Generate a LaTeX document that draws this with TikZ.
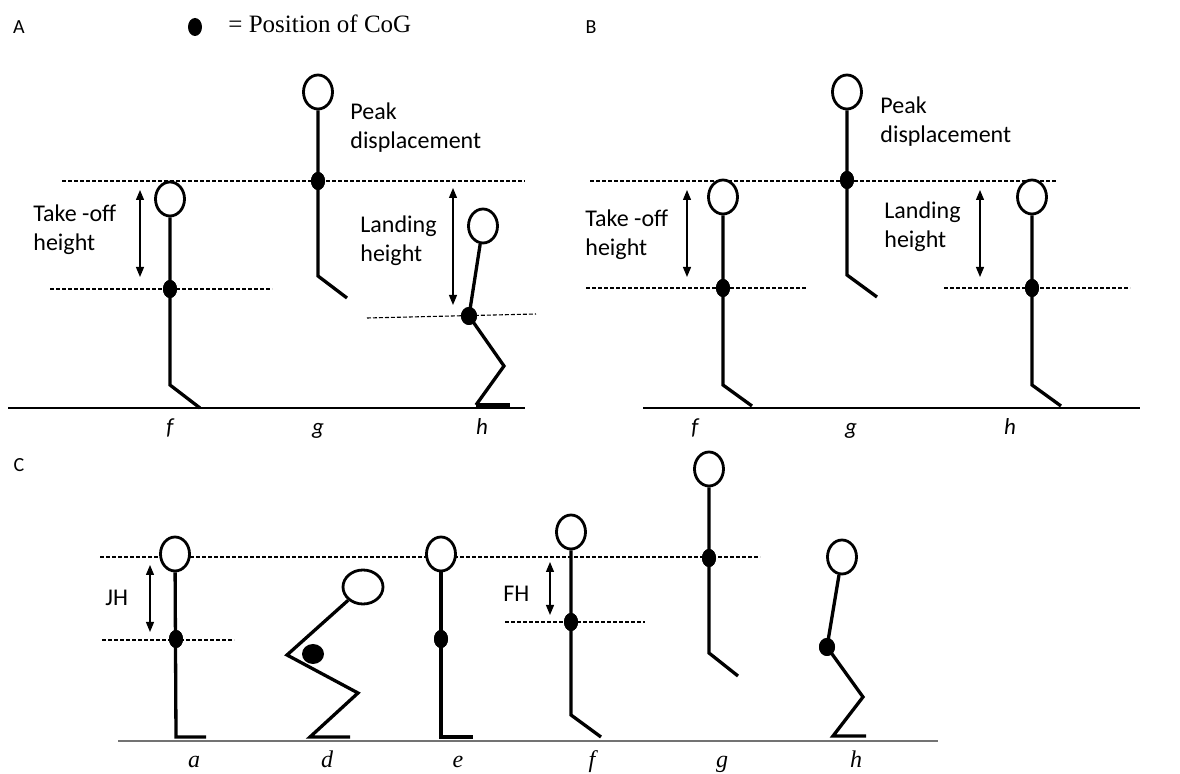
\documentclass[tikz,border=0pt]{standalone}
\usepackage{fontspec}
\setmainfont{Carlito}
\newfontfamily\legendfont{Liberation Serif}
\usetikzlibrary{shapes.geometric,arrows.meta}
\begin{document}
\begin{tikzpicture}[x=0.5pt,y=-0.5pt,
  limb/.style={line width=1.65pt, line join=miter},
  footline/.style={line width=2pt},
  head/.style={ellipse, draw, line width=1.4pt, fill=white,
    minimum width=14.5pt, minimum height=17pt, inner sep=0pt},
  cog/.style={ellipse, fill=black, minimum width=7pt, minimum height=9pt, inner sep=0pt},
  level/.style={dashed, dash pattern=on 2pt off 1pt, line width=0.55pt},
  ground/.style={line width=1pt},
  groundgray/.style={line width=0.8pt, draw=black!55},
  span/.style={{Triangle[width=4pt,length=5pt]}-{Triangle[width=4pt,length=5pt]}, line width=0.6pt},
  lbl/.style={font=\fontsize{12}{14.5}\selectfont, align=left, anchor=west, inner sep=0pt},
  panel/.style={font=\fontsize{10}{12}\selectfont, inner sep=0pt},
  phase/.style={font=\fontsize{11.5}{13}\selectfont\itshape, inner sep=0pt, anchor=base},
  phasec/.style={font=\fontsize{12}{13}\legendfont\itshape, inner sep=0pt, anchor=base}
]
\useasboundingbox (0,0) rectangle (1180,774);

% ---------- legend and panel letters ----------
\node[panel] (labA) at (19,27) {A};
\node[panel] (labB) at (591,27) {B};
\node[panel] (labC) at (19,465) {C};
\node[ellipse, fill=black, minimum width=7pt, minimum height=9pt, inner sep=0pt] (legdot) at (195,27) {};
\node[anchor=west, inner sep=0pt, font=\fontsize{12.5}{14}\legendfont] (legtxt) at (228,24) {= Position of CoG};

% ================= Panel A =================
\coordinate (Ag0) at (8,408);   \coordinate (Ag1) at (525,408);
\coordinate (Au0) at (62,181);  \coordinate (Au1) at (525,181);
\coordinate (Al0) at (50,289);  \coordinate (Al1) at (272,289);
\coordinate (Am0) at (367,318); \coordinate (Am1) at (536,314);
\draw[ground] (Ag0) -- (Ag1);
\draw[level] (Au0) -- (Au1);
\draw[level] (Al0) -- (Al1);
\draw[level] (Am0) -- (Am1);

% f: take-off
\node[head] (Afh) at (170,199) {};
\node[cog] (Afc) at (170,289) {};
\coordinate (Afk) at (170,385); \coordinate (Aff) at (200,408);
\draw[limb] (Afh) -- (Afk) -- (Aff);
\node[cog] at (Afc) {};
% g: peak
\node[head] (Agh) at (318,92) {};
\node[cog] (Agc) at (318,181) {};
\coordinate (Agk) at (318,276); \coordinate (Agf) at (347,298);
\draw[limb] (Agh) -- (Agk) -- (Agf);
\node[cog] at (Agc) {};
% h: landing
\node[head] (Ahh) at (483,226) {};
\node[cog, minimum width=8pt] (Ahc) at (469,316) {};
\coordinate (Ahk) at (504,366); \coordinate (Ahf) at (476,405); \coordinate (Aht) at (510,405);
\draw[limb] (Ahh) -- (Ahc.center) -- (Ahk) -- (Ahf);
\draw[footline] (Ahf) -- (Aht);
\node[cog, minimum width=8pt] at (Ahc) {};

\coordinate (Aa0) at (140,190); \coordinate (Aa1) at (140,277);
\draw[span] (Aa0) -- (Aa1);
\coordinate (Ab0) at (453,188); \coordinate (Ab1) at (453,305);
\draw[span] (Ab0) -- (Ab1);
\node[lbl] (Atk) at (33,229.5) {Take -off\\height};
\node[lbl] (Apk) at (350,127.5) {Peak\\displacement};
\node[lbl] (Ald) at (360,240.5) {Landing\\height};
\node[phase] (Apf) at (170,435) {f};
\node[phase] (Apg) at (318,435) {g};
\node[phase] (Aph) at (482,435) {h};

% ================= Panel B =================
\coordinate (Bg0) at (643,408);  \coordinate (Bg1) at (1140,408);
\coordinate (Bu0) at (590,181);  \coordinate (Bu1) at (1056,181);
\coordinate (Bl0) at (586,288);  \coordinate (Bl1) at (806,288);
\coordinate (Bm0) at (944,288);  \coordinate (Bm1) at (1130,288);
\draw[ground] (Bg0) -- (Bg1);
\draw[level] (Bu0) -- (Bu1);
\draw[level] (Bl0) -- (Bl1);
\draw[level] (Bm0) -- (Bm1);

\node[head] (Bfh) at (723,197) {};
\node[cog] (Bfc) at (723,288) {};
\coordinate (Bfk) at (723,385); \coordinate (Bff) at (752,406);
\draw[limb] (Bfh) -- (Bfk) -- (Bff);
\node[cog] at (Bfc) {};

\node[head] (Bgh) at (847,92) {};
\node[cog] (Bgc) at (847,180) {};
\coordinate (Bgk) at (847,275); \coordinate (Bgf) at (877,297);
\draw[limb] (Bgh) -- (Bgk) -- (Bgf);
\node[cog] at (Bgc) {};

\node[head] (Bhh) at (1032,197) {};
\node[cog] (Bhc) at (1032,288) {};
\coordinate (Bhk) at (1032,385); \coordinate (Bhf) at (1061,406);
\draw[limb] (Bhh) -- (Bhk) -- (Bhf);
\node[cog] at (Bhc) {};

\coordinate (Ba0) at (687,190); \coordinate (Ba1) at (687,277);
\draw[span] (Ba0) -- (Ba1);
\coordinate (Bb0) at (980,190); \coordinate (Bb1) at (980,277);
\draw[span] (Bb0) -- (Bb1);
\node[lbl] (Btk) at (585,235) {Take -off\\height};
\node[lbl] (Bpk) at (880,122) {Peak\\displacement};
\node[lbl] (Bld) at (884,227) {Landing\\height};
\node[phase] (Bpf) at (695,435) {f};
\node[phase] (Bpg) at (851,435) {g};
\node[phase] (Bph) at (1010,435) {h};

% ================= Panel C =================
\coordinate (Cg0) at (118,741); \coordinate (Cg1) at (938,741);
\coordinate (Cu0) at (100,557); \coordinate (Cu1) at (760,557);
\coordinate (Cl0) at (102,640); \coordinate (Cl1) at (234,640);
\coordinate (Cm0) at (505,622); \coordinate (Cm1) at (645,622);
\draw[groundgray] (Cg0) -- (Cg1);
\draw[level] (Cu0) -- (Cu1);
\draw[level] (Cl0) -- (Cl1);
\draw[level] (Cm0) -- (Cm1);

% a: standing
\node[head] (Cah) at (175,554) {};
\node[cog] (Cac) at (176,639) {};
\coordinate (Cab) at (176,737); \coordinate (Cat) at (206,737);
\draw[limb] (Cah) -- (Cab) -- (Cat);
\node[cog] at (Cac) {};
% d: squat
\node[head, minimum width=20pt] (Cdh) at (363,587) {};
\coordinate (Cdp) at (287,655); \coordinate (Cdk) at (358,693);
\coordinate (Cdf) at (310,737); \coordinate (Cdt) at (350,737);
\draw[limb] (Cdh) -- (Cdp) -- (Cdk) -- (Cdf) -- (Cdt);
\node[cog, minimum width=11pt, minimum height=10pt] (Cdc) at (313,654) {};
% e: upright
\node[head] (Ceh) at (441,554) {};
\node[cog] (Cec) at (441,639) {};
\coordinate (Ceb) at (441,737); \coordinate (Cet) at (473,737);
\draw[limb] (Ceh) -- (Ceb) -- (Cet);
\node[cog] at (Cec) {};
% f: take-off
\node[head] (Cfh) at (571,532) {};
\node[cog] (Cfc) at (571,622) {};
\coordinate (Cfk) at (571,715); \coordinate (Cff) at (601,737);
\draw[limb] (Cfh) -- (Cfk) -- (Cff);
\node[cog] at (Cfc) {};
% g: peak
\node[head] (Cgh) at (709,469) {};
\node[cog] (Cgc) at (709,558) {};
\coordinate (Cgk) at (709,653); \coordinate (Cgf) at (738,676);
\draw[limb] (Cgh) -- (Cgk) -- (Cgf);
\node[cog] at (Cgc) {};
% h: landing
\node[head] (Chh) at (842,557) {};
\node[cog, minimum width=8pt] (Chc) at (827,647) {};
\coordinate (Chk) at (863,697); \coordinate (Chf) at (833,736); \coordinate (Cht) at (866,736);
\draw[limb] (Chh) -- (Chc.center) -- (Chk) -- (Chf) -- (Cht);
\node[cog, minimum width=8pt] at (Chc) {};

\coordinate (Ca0) at (150,565); \coordinate (Ca1) at (150,632);
\draw[span] (Ca0) -- (Ca1);
\coordinate (Cb0) at (550,562); \coordinate (Cb1) at (550,615);
\draw[span] (Cb0) -- (Cb1);
\node[lbl] (Cjh) at (105,598) {JH};
\node[lbl] (Cfhl) at (503,594) {FH};
\node[phasec] (Cpa) at (194,768) {a};
\node[phasec] (Cpd) at (327,768) {d};
\node[phasec] (Cpe) at (458,768) {e};
\node[phasec] (Cpf) at (592,768) {f};
\node[phasec] (Cpg) at (722,768) {g};
\node[phasec] (Cph) at (856,768) {h};
\end{tikzpicture}
\end{document}
